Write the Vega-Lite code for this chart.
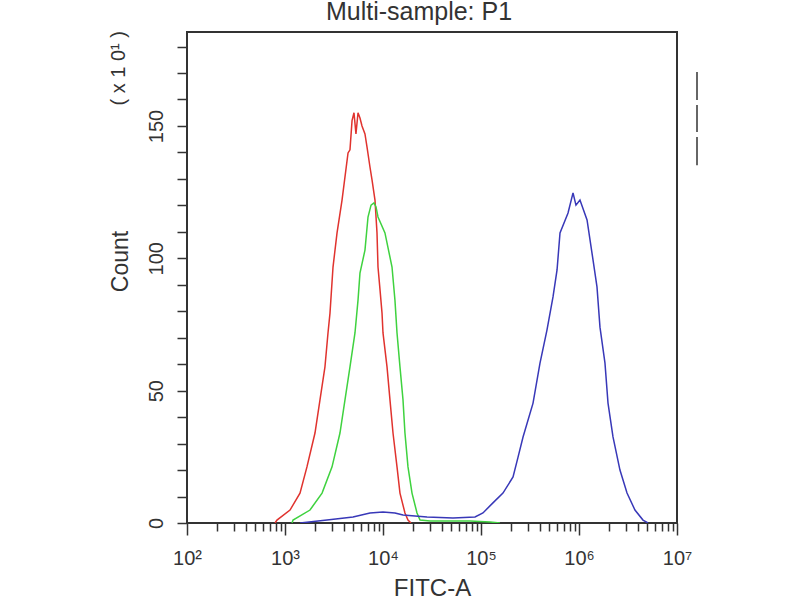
{
  "$schema": "https://vega.github.io/schema/vega-lite/v6.json",
  "autosize": "none",
  "width": 490,
  "height": 491,
  "padding": {"left": 187, "top": 32, "right": 123, "bottom": 77},
  "background": "white",
  "config": {
    "font": "Liberation Sans",
    "view": {"stroke": "#333", "strokeWidth": 2},
    "axis": {
      "grid": false,
      "domain": false,
      "tickColor": "#333",
      "tickWidth": 1.5,
      "labelColor": "#333",
      "titleColor": "#333",
      "labelFont": "Liberation Sans",
      "titleFont": "Liberation Sans",
      "titleFontWeight": "normal"
    }
  },
  "title": {
    "text": "Multi-sample: P1",
    "fontSize": 25,
    "fontWeight": "normal",
    "color": "#333",
    "baseline": "alphabetic",
    "offset": 4,
    "dy": 18,
    "dx": -13
  },
  "encoding": {
    "x": {
      "field": "fitc",
      "type": "quantitative",
      "scale": {"type": "log", "domain": [100, 10000000], "nice": false},
      "axis": {
        "title": "FITC-A",
        "titleFontSize": 24,
        "titleBaseline": "alphabetic",
        "titleY": 72,
        "values": [100, 200, 300, 400, 500, 600, 700, 800, 900,
                   1000, 2000, 3000, 4000, 5000, 6000, 7000, 8000, 9000,
                   10000, 20000, 30000, 40000, 50000, 60000, 70000, 80000, 90000,
                   100000, 200000, 300000, 400000, 500000, 600000, 700000, 800000, 900000,
                   1000000, 2000000, 3000000, 4000000, 5000000, 6000000, 7000000, 8000000, 9000000,
                   10000000],
        "labelExpr": "datum.value == 100 ? '10²' : datum.value == 1000 ? '10³' : datum.value == 10000 ? '10⁴' : datum.value == 100000 ? '10⁵' : datum.value == 1000000 ? '10⁶' : datum.value == 10000000 ? '10⁷' : ''",
        "labelOverlap": false,
        "labelFlush": false,
        "labelFontSize": 20,
        "labelBaseline": "alphabetic",
        "labelPadding": 29,
        "tickSize": {
          "condition": {"test": "indexof([100, 1000, 10000, 100000, 1000000, 10000000], datum.value) >= 0", "value": 12},
          "value": 8
        }
      }
    },
    "y": {
      "field": "count",
      "type": "quantitative",
      "scale": {"domain": [0, 185.5], "nice": false},
      "axis": {
        "title": "Count",
        "titleFontSize": 23,
        "titleAngle": 270,
        "titleBaseline": "alphabetic",
        "titleAlign": "center",
        "titleX": -60,
        "titleY": 229,
        "values": [0, 10, 20, 30, 40, 50, 60, 70, 80, 90, 100, 110, 120, 130, 140, 150, 160, 170, 172, 180],
        "labelExpr": "datum.value == 172 ? '( x 1 0¹ )' : (datum.value % 50 == 0 ? datum.label : '')",
        "labelOverlap": false,
        "labelFlush": false,
        "labelAngle": 270,
        "labelAlign": "center",
        "labelBaseline": "alphabetic",
        "labelFontSize": 20,
        "labelPadding": {
          "condition": {"test": "datum.value == 172", "value": 53},
          "value": 15
        },
        "tickSize": 10,
        "tickOpacity": {
          "condition": {"test": "datum.value == 172", "value": 0},
          "value": 1
        }
      }
    }
  },
  "layer": [
    {
      "data": {
        "values": [
          {"sample": "Isotype control", "fitc": 791, "count": 0},
          {"sample": "Isotype control", "fitc": 828, "count": 1.1},
          {"sample": "Isotype control", "fitc": 1125, "count": 4.9},
          {"sample": "Isotype control", "fitc": 1422, "count": 11.3},
          {"sample": "Isotype control", "fitc": 1675, "count": 21.2},
          {"sample": "Isotype control", "fitc": 2023, "count": 34},
          {"sample": "Isotype control", "fitc": 2275, "count": 46.5},
          {"sample": "Isotype control", "fitc": 2557, "count": 59},
          {"sample": "Isotype control", "fitc": 2746, "count": 71.8},
          {"sample": "Isotype control", "fitc": 2878, "count": 79.3},
          {"sample": "Isotype control", "fitc": 3090, "count": 96.7},
          {"sample": "Isotype control", "fitc": 3396, "count": 109.6},
          {"sample": "Isotype control", "fitc": 3819, "count": 122},
          {"sample": "Isotype control", "fitc": 4397, "count": 139.8},
          {"sample": "Isotype control", "fitc": 4603, "count": 141},
          {"sample": "Isotype control", "fitc": 4832, "count": 152},
          {"sample": "Isotype control", "fitc": 5058, "count": 155},
          {"sample": "Isotype control", "fitc": 5297, "count": 147},
          {"sample": "Isotype control", "fitc": 5560, "count": 155},
          {"sample": "Isotype control", "fitc": 5821, "count": 153},
          {"sample": "Isotype control", "fitc": 6106, "count": 150},
          {"sample": "Isotype control", "fitc": 6546, "count": 147},
          {"sample": "Isotype control", "fitc": 6871, "count": 142},
          {"sample": "Isotype control", "fitc": 7362, "count": 134.5},
          {"sample": "Isotype control", "fitc": 7727, "count": 129.6},
          {"sample": "Isotype control", "fitc": 8283, "count": 122},
          {"sample": "Isotype control", "fitc": 8685, "count": 109.6},
          {"sample": "Isotype control", "fitc": 8892, "count": 96.7},
          {"sample": "Isotype control", "fitc": 9330, "count": 88},
          {"sample": "Isotype control", "fitc": 9773, "count": 79.3},
          {"sample": "Isotype control", "fitc": 10000, "count": 71.8},
          {"sample": "Isotype control", "fitc": 10990, "count": 59},
          {"sample": "Isotype control", "fitc": 11780, "count": 46.5},
          {"sample": "Isotype control", "fitc": 12650, "count": 34},
          {"sample": "Isotype control", "fitc": 13900, "count": 21.2},
          {"sample": "Isotype control", "fitc": 14900, "count": 11.3},
          {"sample": "Isotype control", "fitc": 16750, "count": 3.8},
          {"sample": "Isotype control", "fitc": 17990, "count": 1.1},
          {"sample": "Isotype control", "fitc": 19300, "count": 0},

          {"sample": "Unlabelled", "fitc": 1179, "count": 0},
          {"sample": "Unlabelled", "fitc": 1208, "count": 1.1},
          {"sample": "Unlabelled", "fitc": 1799, "count": 4.9},
          {"sample": "Unlabelled", "fitc": 2388, "count": 11.3},
          {"sample": "Unlabelled", "fitc": 3020, "count": 21.2},
          {"sample": "Unlabelled", "fitc": 3639, "count": 34},
          {"sample": "Unlabelled", "fitc": 4093, "count": 46.5},
          {"sample": "Unlabelled", "fitc": 4603, "count": 59},
          {"sample": "Unlabelled", "fitc": 5176, "count": 71.8},
          {"sample": "Unlabelled", "fitc": 5560, "count": 84.2},
          {"sample": "Unlabelled", "fitc": 5821, "count": 94.4},
          {"sample": "Unlabelled", "fitc": 6546, "count": 103.1},
          {"sample": "Unlabelled", "fitc": 7031, "count": 115.6},
          {"sample": "Unlabelled", "fitc": 7551, "count": 120.1},
          {"sample": "Unlabelled", "fitc": 8093, "count": 120.9},
          {"sample": "Unlabelled", "fitc": 8487, "count": 119.4},
          {"sample": "Unlabelled", "fitc": 8892, "count": 115.6},
          {"sample": "Unlabelled", "fitc": 10470, "count": 109.6},
          {"sample": "Unlabelled", "fitc": 12360, "count": 96.7},
          {"sample": "Unlabelled", "fitc": 13240, "count": 84.2},
          {"sample": "Unlabelled", "fitc": 13900, "count": 71.8},
          {"sample": "Unlabelled", "fitc": 14900, "count": 59},
          {"sample": "Unlabelled", "fitc": 16000, "count": 46.5},
          {"sample": "Unlabelled", "fitc": 16750, "count": 34},
          {"sample": "Unlabelled", "fitc": 17990, "count": 21.2},
          {"sample": "Unlabelled", "fitc": 19770, "count": 11.3},
          {"sample": "Unlabelled", "fitc": 22230, "count": 3.8},
          {"sample": "Unlabelled", "fitc": 23880, "count": 1.1},
          {"sample": "Unlabelled", "fitc": 30200, "count": 0.8},
          {"sample": "Unlabelled", "fitc": 77300, "count": 0.8},
          {"sample": "Unlabelled", "fitc": 123600, "count": 0.4},
          {"sample": "Unlabelled", "fitc": 156300, "count": 0},

          {"sample": "Antibody", "fitc": 1422, "count": 0},
          {"sample": "Antibody", "fitc": 2685, "count": 1.1},
          {"sample": "Antibody", "fitc": 4943, "count": 2.3},
          {"sample": "Antibody", "fitc": 7362, "count": 3.8},
          {"sample": "Antibody", "fitc": 10000, "count": 4.2},
          {"sample": "Antibody", "fitc": 13240, "count": 3.8},
          {"sample": "Antibody", "fitc": 16000, "count": 3.0},
          {"sample": "Antibody", "fitc": 28120, "count": 2.3},
          {"sample": "Antibody", "fitc": 51760, "count": 1.9},
          {"sample": "Antibody", "fitc": 86900, "count": 2.3},
          {"sample": "Antibody", "fitc": 104700, "count": 3.8},
          {"sample": "Antibody", "fitc": 132400, "count": 7.6},
          {"sample": "Antibody", "fitc": 167500, "count": 11.3},
          {"sample": "Antibody", "fitc": 212300, "count": 17.4},
          {"sample": "Antibody", "fitc": 238800, "count": 24.9},
          {"sample": "Antibody", "fitc": 268500, "count": 32.5},
          {"sample": "Antibody", "fitc": 339600, "count": 45.3},
          {"sample": "Antibody", "fitc": 399900, "count": 60.4},
          {"sample": "Antibody", "fitc": 471000, "count": 72.9},
          {"sample": "Antibody", "fitc": 543000, "count": 85.4},
          {"sample": "Antibody", "fitc": 597000, "count": 95.6},
          {"sample": "Antibody", "fitc": 640000, "count": 109.6},
          {"sample": "Antibody", "fitc": 772700, "count": 117.1},
          {"sample": "Antibody", "fitc": 868900, "count": 124.7},
          {"sample": "Antibody", "fitc": 931000, "count": 120.1},
          {"sample": "Antibody", "fitc": 1023000, "count": 122},
          {"sample": "Antibody", "fitc": 1208000, "count": 114.5},
          {"sample": "Antibody", "fitc": 1390000, "count": 99.4},
          {"sample": "Antibody", "fitc": 1526000, "count": 89.2},
          {"sample": "Antibody", "fitc": 1637000, "count": 74},
          {"sample": "Antibody", "fitc": 1841000, "count": 60.4},
          {"sample": "Antibody", "fitc": 1977000, "count": 45.3},
          {"sample": "Antibody", "fitc": 2223000, "count": 32.5},
          {"sample": "Antibody", "fitc": 2618000, "count": 20},
          {"sample": "Antibody", "fitc": 3090000, "count": 11.3},
          {"sample": "Antibody", "fitc": 3724000, "count": 4.9},
          {"sample": "Antibody", "fitc": 4498000, "count": 1.1},
          {"sample": "Antibody", "fitc": 5058000, "count": 0}
        ]
      },
      "mark": {"type": "line", "strokeWidth": 1.5, "clip": true},
      "encoding": {
        "color": {
          "field": "sample",
          "type": "nominal",
          "scale": {
            "domain": ["Isotype control", "Unlabelled", "Antibody"],
            "range": ["#e0332e", "#3fd23f", "#3838b8"]
          },
          "legend": null
        }
      }
    },
    {
      "data": {
        "values": [
          {"key": "Isotype control", "fitc": 16000000, "count": 170.4, "bottom": 159.8},
          {"key": "Unlabelled", "fitc": 16000000, "count": 157.9, "bottom": 147.7},
          {"key": "Antibody", "fitc": 16000000, "count": 145.8, "bottom": 135.2}
        ]
      },
      "mark": {"type": "rule", "color": "#333", "strokeWidth": 1.5, "clip": false},
      "encoding": {
        "y2": {"field": "bottom"}
      }
    }
  ]
}
